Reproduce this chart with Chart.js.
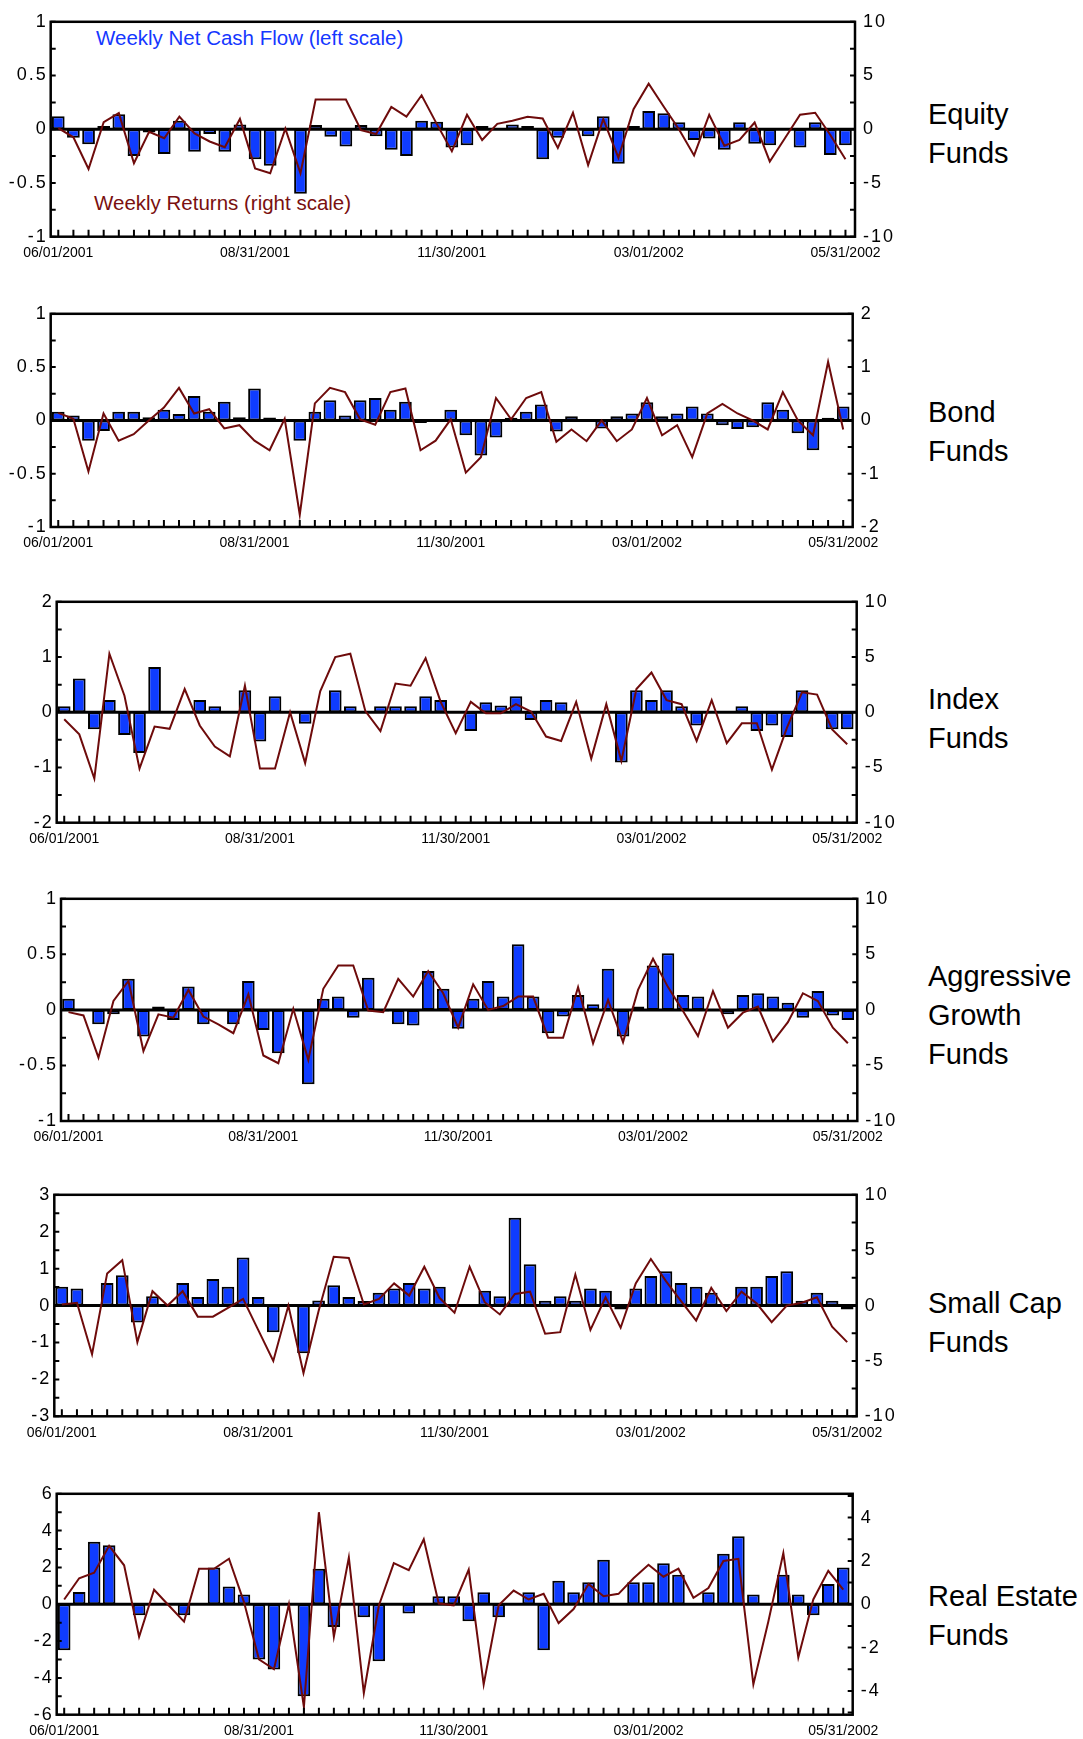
<!DOCTYPE html>
<html><head><meta charset="utf-8">
<script src="https://cdn.jsdelivr.net/npm/chart.js@4/dist/chart.umd.min.js"></script>
<style>
body{margin:0;background:#fff;width:1083px;height:1739px;position:relative;overflow:hidden;font-family:"Liberation Sans",Arial,sans-serif;}
canvas{position:absolute;left:0;}
.title{position:absolute;left:928px;font-size:29px;line-height:39px;color:#000;white-space:nowrap;}
.legend{position:absolute;font-size:20.5px;line-height:24px;white-space:nowrap;}
</style></head><body>
<div class="title" style="top:95px">Equity<br>Funds</div>
<div class="title" style="top:393px">Bond<br>Funds</div>
<div class="title" style="top:680px">Index<br>Funds</div>
<div class="title" style="top:957px">Aggressive<br>Growth<br>Funds</div>
<div class="title" style="top:1284px">Small Cap<br>Funds</div>
<div class="title" style="top:1577px">Real Estate<br>Funds</div>
<div class="legend" style="left:96px;top:26px;color:#1537ff">Weekly Net Cash Flow (left scale)</div>
<div class="legend" style="left:94px;top:191px;color:#7a1010">Weekly Returns (right scale)</div>
<script>
const weeks = Array.from({length: 53}, (_, i) => i);
const dateTickIndex = [0, 13, 26, 39, 52];
const dateTickLabels = ['06/01/2001', '08/31/2001', '11/30/2001', '03/01/2002', '05/31/2002'];

const equityFlow = [0.12,-0.08,-0.14,0.03,0.14,-0.25,-0.03,-0.23,0.08,-0.21,-0.045,-0.21,0.045,-0.28,-0.34,0,-0.60,0.04,-0.07,-0.16,0.04,-0.065,-0.19,-0.25,0.08,0.07,-0.17,-0.15,0.03,0,0.045,0.03,-0.28,-0.08,0,-0.065,0.12,-0.32,0.03,0.17,0.15,0.065,-0.10,-0.085,-0.19,0.065,-0.135,-0.15,0,-0.17,0.065,-0.24,-0.15];
const equityReturn = [0.1,-0.75,-3.7,0.66,1.5,-3.16,-0.24,-0.84,1.17,-0.39,-1.14,-1.68,0.96,-3.64,-4.09,0.06,-4.09,2.77,2.77,2.77,-0.09,-0.45,2.08,1.17,3.16,0.5,-2.05,1.35,-1.0,0.5,0.8,1.17,1.0,-1.74,1.53,-3.34,0.93,-2.65,1.86,4.24,2.1,0.0,-2.44,1.35,-1.53,-1.0,0.63,-3.0,-0.84,1.35,1.53,-0.54,-2.8];
const bondFlow = [0.08,0.045,-0.19,-0.10,0.08,0.08,0.03,0.10,0.06,0.23,0.08,0.175,0.03,0.30,0.027,0,-0.19,0.08,0.19,0.045,0.19,0.21,0.10,0.175,-0.025,0,0.10,-0.14,-0.33,-0.16,0.025,0.08,0.15,-0.105,0.04,0,-0.075,0.04,0.065,0.17,0.04,0.065,0.13,0.065,-0.045,-0.08,-0.065,0.17,0.10,-0.12,-0.28,0.025,0.13];
const bondReturn = [0.14,0.03,-0.96,0.13,-0.38,-0.26,0,0.24,0.61,0.13,0.21,-0.15,-0.09,-0.38,-0.56,0.03,-1.77,0.32,0.61,0.53,0.02,-0.08,0.53,0.60,-0.56,-0.38,0.02,-0.98,-0.69,0.42,0.02,0.42,0.53,-0.40,-0.17,-0.39,0,-0.39,-0.17,0.42,-0.28,-0.09,-0.69,0.13,0.31,0.13,0,-0.17,0.53,0,-0.28,1.10,-0.17];
const indexFlow = [0.11,0.61,-0.31,0.22,-0.41,-0.74,0.82,0,0,0.22,0.11,0,0.40,-0.53,0.29,0,-0.21,0,0.40,0.11,0,0.11,0.11,0.11,0.29,0.22,0,-0.34,0.18,0.12,0.29,-0.14,0.22,0.18,0,0,0,-0.91,0.40,0.22,0.40,0.11,-0.24,0,0,0.11,-0.34,-0.24,-0.45,0.40,0,-0.31,-0.31];
const indexReturn = [-0.64,-2.0,-6.0,5.3,1.5,-5.1,-1.3,-1.5,2.1,-1.2,-3.1,-4.0,2.4,-5.1,-5.1,0,-4.6,1.9,5.0,5.3,0.1,-1.7,2.6,2.4,4.9,0.94,-1.9,0.94,-0.1,-0.1,0.73,0.06,-2.2,-2.6,0.94,-4.2,0.73,-4.4,2.1,3.6,1.1,0.73,-2.6,1.1,-2.8,-1.0,-1.0,-5.2,-1.4,1.8,1.6,-1.55,-2.9];
const aggFlow = [0.10,0,-0.13,-0.04,0.28,-0.24,0.03,-0.09,0.21,-0.13,0,-0.13,0.26,-0.18,-0.39,0,-0.67,0.10,0.12,-0.07,0.29,-0.015,-0.13,-0.14,0.35,0.19,-0.17,0.10,0.26,0.12,0.59,0.12,-0.21,-0.06,0.135,0.05,0.37,-0.24,0.03,0.40,0.51,0.135,0.12,0,-0.04,0.135,0.15,0.12,0.065,-0.07,0.17,-0.05,-0.09];
const aggReturn = [-0.2,-0.5,-4.3,0.8,2.6,-3.7,-0.4,-0.7,1.8,-0.6,-1.3,-2.1,1.4,-4.1,-4.8,0.1,-4.5,1.9,4.0,4.0,-0.05,-0.2,2.8,1.2,3.5,1.5,-1.6,2.3,0,0.35,1.2,1.2,-2.5,-2.5,2.05,-3.0,0.9,-2.9,1.8,4.6,2.05,-0.1,-2.35,1.7,-1.6,-0.25,0.3,-2.85,-1.1,1.5,0.8,-1.6,-3.0];
const smallFlow = [0.51,0.46,0,0.61,0.82,-0.46,0.25,0,0.61,0.23,0.72,0.51,1.30,0.23,-0.72,0,-1.29,0.14,0.55,0.23,0.12,0.35,0.46,0.61,0.46,0.51,0,0,0.40,0.25,2.38,1.12,0.13,0.25,0.13,0.46,0.40,-0.11,0.46,0.80,0.93,0.61,0.51,0.35,0,0.51,0.51,0.80,0.93,0.13,0.35,0.13,-0.11];
const smallReturn = [0.1,0.25,-4.4,2.9,4.1,-3.3,1.3,0,1.3,-1.0,-1.0,-0.2,0.6,-2.2,-5.0,0,-6.1,-0.5,4.4,4.3,0.1,0.6,2.0,0.9,3.5,0.7,-0.65,3.5,0.3,-0.8,1.05,1.25,-2.55,-2.4,2.8,-2.2,0.75,-2.0,2.0,4.2,2.2,0.4,-1.35,1.6,-0.5,1.25,0.2,-1.5,0,0.25,0.75,-1.9,-3.3];
const reFlow = [-2.5,0.67,3.4,3.2,0,-0.6,0,0,-0.6,0,2.0,0.97,0.53,-3.0,-3.55,0,-5.0,1.93,-1.23,0,-0.7,-3.1,0,-0.5,0,0.44,0.44,-0.93,0.65,-0.7,0,0.65,-2.5,1.28,0.65,1.2,2.42,0,1.2,1.2,2.23,1.6,0,0.65,2.75,3.7,0.53,0,1.6,0.53,-0.6,1.1,2.0];
const reReturn = [0.22,1.2,1.46,2.7,1.8,-1.5,0.67,-0.07,-0.8,1.64,1.64,2.1,0.1,-2.54,-3.0,0,-4.75,4.25,-1.5,2.16,-4.1,-0.07,1.9,1.57,3.0,0.03,-0.05,1.6,-3.7,-0.05,0.63,0.22,0.48,-0.87,-0.22,0.93,0.37,0.48,1.2,1.82,1.27,1.64,0.3,0.75,2.0,2.1,-3.7,-0.8,2.36,-2.46,0.22,1.54,0.67];

// axis tick values and which of them carry labels
const ticksPm1 = [-1,-0.75,-0.5,-0.25,0,0.25,0.5,0.75,1];
const labelsPm1 = [-1,-0.5,0,0.5,1];
const ticksPm10 = [-10,-7.5,-5,-2.5,0,2.5,5,7.5,10];
const labelsPm10 = [-10,-5,0,5,10];
const ticksPm2 = [-2,-1.5,-1,-0.5,0,0.5,1,1.5,2];
const labelsPm2 = [-2,-1,0,1,2];
const ticksPm3 = [-3,-2.5,-2,-1.5,-1,-0.5,0,0.5,1,1.5,2,2.5,3];
const labelsPm3 = [-3,-2,-1,0,1,2,3];
const ticksPm6 = [-6,-5,-4,-3,-2,-1,0,1,2,3,4,5,6];
const labelsPm6 = [-6,-4,-2,0,2,4,6];
const ticksRe = [-5,-4,-3,-2,-1,0,1,2,3,4,5];
const labelsRe = [-4,-2,0,2,4];

const panels = [
  {flow: equityFlow, ret: equityReturn, L:[-1,1,ticksPm1,labelsPm1], R:[-10,10,ticksPm10,labelsPm10], box:[50.7,855,15,236.7]},
  {flow: bondFlow, ret: bondReturn, L:[-1,1,ticksPm1,labelsPm1], R:[-2,2,ticksPm2,labelsPm2], box:[50.7,852.7,307,527]},
  {flow: indexFlow, ret: indexReturn, L:[-2,2,ticksPm2,labelsPm2], R:[-10,10,ticksPm10,labelsPm10], box:[56.7,856.7,595,822.7]},
  {flow: aggFlow, ret: aggReturn, L:[-1,1,ticksPm1,labelsPm1], R:[-10,10,ticksPm10,labelsPm10], box:[61,857.3,892.3,1121]},
  {flow: smallFlow, ret: smallReturn, L:[-3,3,ticksPm3,labelsPm3], R:[-10,10,ticksPm10,labelsPm10], box:[54.3,856.7,1188.7,1416.3]},
  {flow: reFlow, ret: reReturn, L:[-6,6,ticksPm6,labelsPm6], R:[-5.1,5.1,ticksRe,labelsRe], box:[56.7,852.7,1487,1714.7]}
];

const BLUE = '#0f3cff', RED = '#6e0b0b';
const W = 900;

const framePlugin = {
  id: 'frame',
  beforeDraw(chart) {
    // y-axis numbers are drawn (z = 0) before datasets with wider tracking
    chart.ctx.letterSpacing = '2px';
  },
  beforeDatasetsDraw(chart) {
    const {ctx, chartArea: a, scales} = chart;
    ctx.letterSpacing = '0px';
    const y0 = scales.yL.getPixelForValue(0);
    ctx.save();
    ctx.strokeStyle = '#000'; ctx.lineWidth = 3;
    ctx.beginPath(); ctx.moveTo(a.left, y0); ctx.lineTo(a.right, y0); ctx.stroke();
    ctx.restore();
  },
  afterDraw(chart) {
    const {ctx, chartArea: a, scales} = chart;
    ctx.save();
    ctx.strokeStyle = '#000'; ctx.lineWidth = 2;
    ctx.beginPath();
    scales.x.ticks.forEach(t => { const x = scales.x.getPixelForValue(t.value); ctx.moveTo(x, a.bottom); ctx.lineTo(x, a.bottom - 7); });
    scales.yL.ticks.forEach(t => { const y = scales.yL.getPixelForValue(t.value); ctx.moveTo(a.left, y); ctx.lineTo(a.left + 5, y); });
    scales.yR.ticks.forEach(t => { const y = scales.yR.getPixelForValue(t.value); ctx.moveTo(a.right, y); ctx.lineTo(a.right - 5, y); });
    ctx.stroke();
    ctx.lineWidth = 2.5;
    ctx.strokeRect(a.left, a.top, a.right - a.left, a.bottom - a.top);
    ctx.restore();
  }
};

const tickFont = {family: '"Liberation Sans", Arial, sans-serif', size: 18};
const dateFont = {family: '"Liberation Sans", Arial, sans-serif', size: 14};
const has = (arr, v) => arr.some(x => Math.abs(x - v) < 1e-9);

panels.forEach(p => {
  const [Lx, Rx, T, B] = p.box;
  const top = Math.floor(T - 12);
  const padTop = T - top;
  const H = Math.round(padTop + (B - T) + 30);
  const xH = H - padTop - (B - T);
  const cv = document.createElement('canvas');
  cv.width = W; cv.height = H;
  cv.style.top = top + 'px';
  cv.style.width = W + 'px'; cv.style.height = H + 'px';
  document.body.appendChild(cv);
  new Chart(cv, {
    type: 'bar',
    data: {
      datasets: [
        {type: 'line', data: p.ret.map((v, i) => ({x: weeks[i], y: v})), yAxisID: 'yR',
         borderColor: RED, borderWidth: 2, pointRadius: 0, tension: 0, order: 1},
        {type: 'bar', data: p.flow.map((v, i) => ({x: weeks[i], y: v})), yAxisID: 'yL',
         backgroundColor: BLUE, borderColor: '#000', borderWidth: 2, borderSkipped: false,
         barPercentage: 0.84, categoryPercentage: 1, order: 2}
      ]
    },
    options: {
      responsive: false, animation: false, devicePixelRatio: 1,
      layout: {padding: {top: padTop, left: 0, right: 0, bottom: 0}},
      plugins: {legend: {display: false}, tooltip: {enabled: false}},
      scales: {
        x: {type: 'linear', min: -0.5, max: 52.63, offset: false,
            grid: {display: false, drawTicks: false}, border: {display: false},
            afterBuildTicks: s => { s.ticks = weeks.map(v => ({value: v})); },
            afterFit: s => { s.height = xH; },
            ticks: {z: 1, autoSkip: false, maxRotation: 0, minRotation: 0, padding: 8, color: '#000', font: dateFont,
                    callback: v => { const k = dateTickIndex.indexOf(v); return k >= 0 ? dateTickLabels[k] : ''; }}},
        yL: {type: 'linear', position: 'left', min: p.L[0], max: p.L[1],
             grid: {display: false, drawTicks: false}, border: {display: false},
             afterBuildTicks: s => { s.ticks = p.L[2].map(v => ({value: v})); },
             afterFit: s => { s.width = Lx; },
             ticks: {z: 0, padding: 3, color: '#000', font: tickFont, autoSkip: false,
                     callback: v => has(p.L[3], v) ? String(v) : ''}},
        yR: {type: 'linear', position: 'right', min: p.R[0], max: p.R[1],
             grid: {display: false, drawTicks: false}, border: {display: false},
             afterBuildTicks: s => { s.ticks = p.R[2].map(v => ({value: v})); },
             afterFit: s => { s.width = W - Rx; },
             ticks: {z: 0, padding: 8, color: '#000', font: tickFont, autoSkip: false,
                     callback: v => has(p.R[3], v) ? String(v) : ''}}
      }
    },
    plugins: [framePlugin]
  });
});
</script>
</body></html>
